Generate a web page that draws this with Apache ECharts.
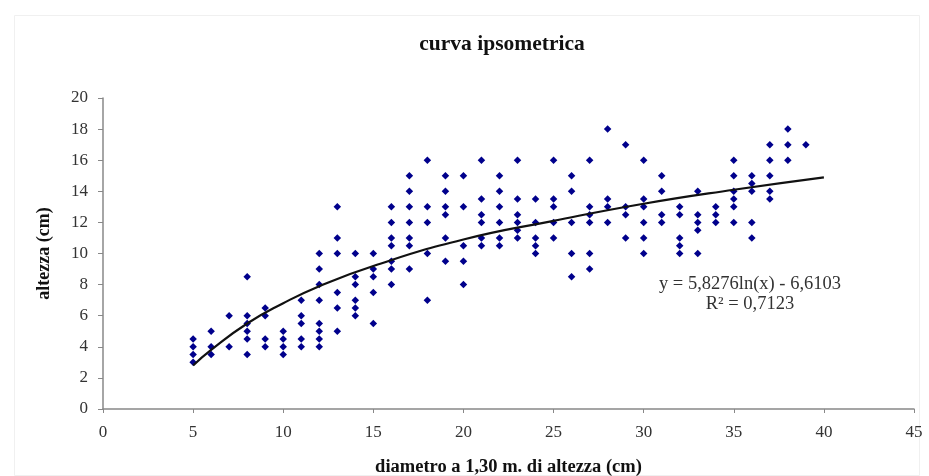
<!DOCTYPE html>
<html>
<head>
<meta charset="utf-8">
<script src="https://cdn.jsdelivr.net/npm/echarts@6/dist/echarts.min.js"></script>
<style>
  html, body { margin: 0; padding: 0; background: #fff; }
  #chart { width: 929px; height: 476px; }
</style>
</head>
<body>
<div id="chart"></div>
<script>
// diameters (cm) and heights (cm), one entry per point
var diametro = [
  5, 5, 5, 5,
  6, 6, 6,
  7, 7,
  8, 8, 8, 8, 8, 8,
  9, 9, 9, 9,
  10, 10, 10, 10,
  11, 11, 11, 11, 11,
  12, 12, 12, 12, 12, 12, 12, 12,
  13, 13, 13, 13, 13, 13,
  14, 14, 14, 14, 14, 14,
  15, 15, 15, 15, 15,
  16, 16, 16, 16, 16, 16, 16,
  17, 17, 17, 17, 17, 17, 17,
  18, 18, 18, 18, 18,
  19, 19, 19, 19, 19, 19,
  20, 20, 20, 20, 20,
  21, 21, 21, 21, 21, 21,
  22, 22, 22, 22, 22, 22,
  23, 23, 23, 23, 23, 23,
  24, 24, 24, 24, 24,
  25, 25, 25, 25, 25,
  26, 26, 26, 26, 26,
  27, 27, 27, 27, 27, 27,
  28, 28, 28, 28,
  29, 29, 29, 29,
  30, 30, 30, 30, 30, 30,
  31, 31, 31, 31,
  32, 32, 32, 32, 32,
  33, 33, 33, 33, 33,
  34, 34, 34,
  35, 35, 35, 35, 35, 35,
  36, 36, 36, 36, 36,
  37, 37, 37, 37, 37,
  38, 38, 38,
  39
];
var altezza = [
  4.5, 4, 3.5, 3,
  5, 4, 3.5,
  6, 4,
  8.5, 6, 5.5, 5, 4.5, 3.5,
  6.5, 6, 4.5, 4,
  5, 4.5, 4, 3.5,
  7, 6, 5.5, 4.5, 4,
  10, 9, 8, 7, 5.5, 5, 4.5, 4,
  13, 11, 10, 7.5, 6.5, 5,
  10, 8.5, 8, 7, 6.5, 6,
  10, 9, 8.5, 7.5, 5.5,
  13, 12, 11, 10.5, 9.5, 9, 8,
  15, 14, 13, 12, 11, 10.5, 9,
  16, 13, 12, 10, 7,
  15, 14, 13, 12.5, 11, 9.5,
  15, 13, 10.5, 9.5, 8,
  16, 13.5, 12.5, 12, 11, 10.5,
  15, 14, 13, 12, 11, 10.5,
  16, 13.5, 12.5, 12, 11.5, 11,
  13.5, 12, 11, 10.5, 10,
  16, 13.5, 13, 12, 11,
  15, 14, 12, 10, 8.5,
  16, 13, 12.5, 12, 10, 9,
  18, 13.5, 13, 12,
  17, 13, 12.5, 11,
  16, 13.5, 13, 12, 11, 10,
  15, 14, 12.5, 12,
  13, 12.5, 11, 10.5, 10,
  14, 12.5, 12, 11.5, 10,
  13, 12.5, 12,
  16, 15, 14, 13.5, 13, 12,
  15, 14.5, 14, 12, 11,
  17, 16, 15, 14, 13.5,
  18, 17, 16,
  17
];
// logarithmic trend line
var trendX = [5, 6, 8, 10, 12, 15, 20, 25, 30, 35, 40];
var trendY = [2.8, 3.8, 5.5, 6.8, 7.9, 9.2, 10.9, 12.1, 13.2, 14.1, 14.9];

var titolo = "curva ipsometrica";
var labelX = "diametro a 1,30 m. di altezza (cm)";
var labelY = "altezza (cm)";
var equazione = "y = 5,8276ln(x) - 6,6103";
var r2 = "R² = 0,7123";

var punti = diametro.map(function (d, i) { return [d, altezza[i]]; });
var curva = trendX.map(function (d, i) { return [d, trendY[i]]; });

var serif = "Liberation Serif";
var chart = echarts.init(document.getElementById("chart"));

var option = {
  backgroundColor: "#fff",
  animation: false,
  grid: { left: 103, right: 15, top: 98, bottom: 67, outerBoundsMode: "none", containLabel: false },
  xAxis: {
    type: "value",
    min: 0,
    max: 45,
    interval: 5,
    name: labelX,
    nameLocation: "middle",
    nameGap: 49,
    nameTextStyle: { fontFamily: serif, fontWeight: "bold", fontSize: 18.5, color: "#111" },
    axisLine: { onZero: false, lineStyle: { color: "#888", width: 1.5 } },
    axisTick: { show: true, inside: false, length: 4, lineStyle: { color: "#888" } },
    axisLabel: { fontFamily: serif, fontSize: 17, color: "#333", margin: 15 },
    splitLine: { show: false }
  },
  yAxis: {
    type: "value",
    min: 0,
    max: 20,
    interval: 2,
    name: labelY,
    nameLocation: "middle",
    nameGap: 50,
    nameTextStyle: { fontFamily: serif, fontWeight: "bold", fontSize: 18, color: "#111" },
    axisLine: { show: true, lineStyle: { color: "#888", width: 1.5 } },
    axisTick: { show: true, length: 5, lineStyle: { color: "#888" } },
    axisLabel: { fontFamily: serif, fontSize: 17, color: "#333", margin: 15 },
    splitLine: { show: false }
  },
  series: [
    {
      name: "altezza",
      type: "scatter",
      symbol: "diamond",
      symbolSize: 7.5,
      itemStyle: { color: "#00008c", opacity: 1 },
      data: punti,
      z: 2
    },
    {
      name: "tendenza",
      type: "line",
      data: curva,
      smooth: true,
      showSymbol: false,
      lineStyle: { color: "#111", width: 2.2 },
      z: 3
    }
  ],
  graphic: [
    {
      type: "rect",
      left: 12,
      top: 13,
      shape: { width: 905, height: 460 },
      style: { fill: "none", stroke: "#f0f0f0", lineWidth: 1 },
      silent: true
    },
    {
      type: "text",
      x: 502,
      y: 44,
      style: {
        text: titolo, fontFamily: serif, fontWeight: "bold", fontSize: 21.5,
        fill: "#111", align: "center", verticalAlign: "middle"
      }
    },
    {
      type: "text",
      x: 750,
      y: 284,
      style: {
        text: equazione, fontFamily: serif, fontSize: 18.5, fill: "#333",
        align: "center", verticalAlign: "middle"
      }
    },
    {
      type: "text",
      x: 750,
      y: 304,
      style: {
        text: r2, fontFamily: serif, fontSize: 18.5, fill: "#333",
        align: "center", verticalAlign: "middle"
      }
    }
  ]
};

chart.setOption(option);
</script>
</body>
</html>
